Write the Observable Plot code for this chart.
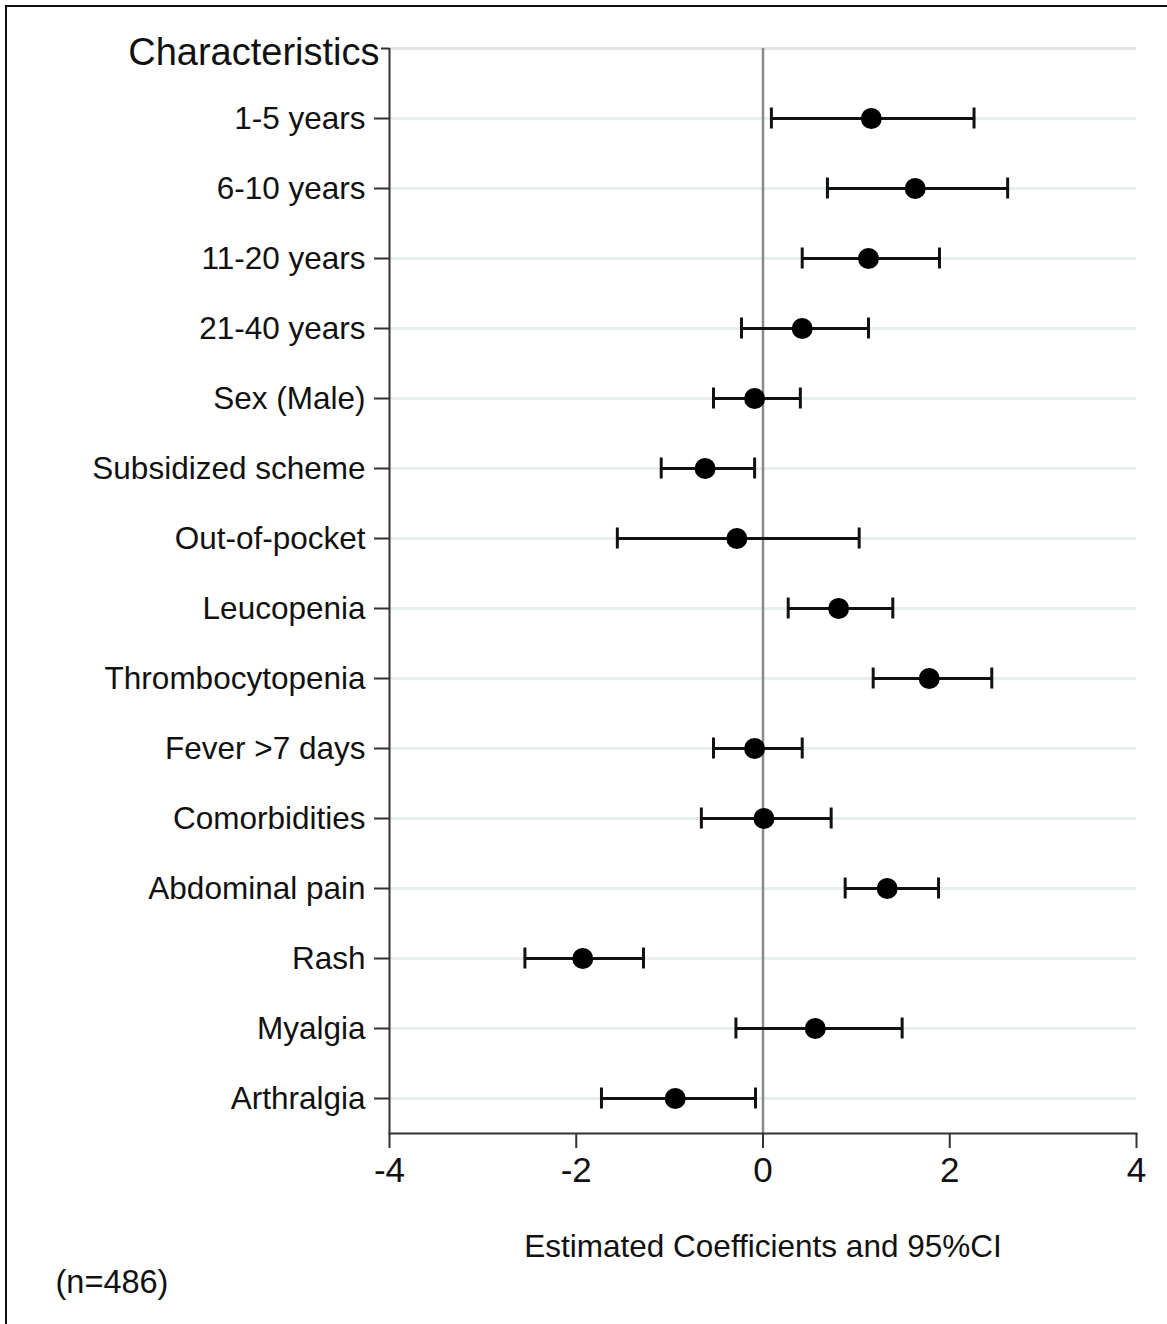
<!DOCTYPE html>
<html>
<head>
<meta charset="utf-8">
<script src="https://cdn.jsdelivr.net/npm/d3@7"></script>
<script src="https://cdn.jsdelivr.net/npm/@observablehq/plot@0.6"></script>
<style>
  html, body { margin: 0; padding: 0; background: #fff; }
  #wrap { position: relative; width: 1167px; height: 1324px; overflow: hidden; }
  #border { position: absolute; left: 5px; top: 5px; width: 1300px; height: 1400px;
            border-left: 2px solid #111; border-top: 2px solid #111; pointer-events: none; }
</style>
</head>
<body>
<div id="wrap"><div id="chart"></div><div id="border"></div></div>
<script>
const header = "Characteristics";
const categories = [
  "1-5 years", "6-10 years", "11-20 years", "21-40 years", "Sex (Male)",
  "Subsidized scheme", "Out-of-pocket", "Leucopenia", "Thrombocytopenia",
  "Fever >7 days", "Comorbidities", "Abdominal pain", "Rash", "Myalgia", "Arthralgia"
];
const estimates = [1.16, 1.63, 1.13, 0.42, -0.09, -0.62, -0.28, 0.81, 1.78, -0.09, 0.01, 1.33, -1.93, 0.56, -0.94];
const lower     = [0.09, 0.69, 0.42, -0.23, -0.53, -1.09, -1.56, 0.27, 1.18, -0.53, -0.66, 0.88, -2.55, -0.29, -1.73];
const upper     = [2.26, 2.62, 1.89, 1.13, 0.40, -0.09, 1.03, 1.39, 2.45, 0.42, 0.73, 1.88, -1.28, 1.49, -0.08];
const xTicks = [-4, -2, 0, 2, 4];
const xLabel = "Estimated Coefficients and 95%CI";
const note = "(n=486)";

const data = categories.map((c, i) => ({cat: c, est: estimates[i], lo: lower[i], hi: upper[i]}));
const ink = "#111";

const chart = Plot.plot({
  width: 1167,
  height: 1324,
  marginLeft: 389,
  marginRight: 31,
  marginTop: 13,
  marginBottom: 191,
  style: {fontFamily: "'Liberation Sans', Arial, Helvetica, sans-serif", background: "white", color: ink},
  x: {domain: [-4, 4]},
  y: {type: "band", domain: [header, ...categories], padding: 0, round: false},
  marks: [
    Plot.ruleY([header], {stroke: "#e3e5e5", strokeWidth: 3}),
    Plot.ruleY(categories, {stroke: "#e6eff0", strokeWidth: 3}),
    Plot.ruleX([0], {stroke: "#8a8a8a", strokeWidth: 2.5, insetTop: 35}),
    Plot.ruleX([-4], {stroke: "#333", strokeWidth: 2, insetTop: 35}),
    Plot.frame({anchor: "bottom", stroke: "#333", strokeWidth: 2}),
    Plot.axisX({ticks: xTicks, tickFormat: d => String(d), tickSize: 15, tickPadding: 9, fontSize: 35, label: null, stroke: "#333", strokeWidth: 2}),
    Plot.axisY({ticks: categories, tickSize: 15, tickPadding: 9, fontSize: 31.5, label: null, stroke: "#333", strokeWidth: 2}),
    Plot.axisY({ticks: categories, tickSize: 0, tickPadding: 24, fontSize: 31.5, label: null, dy: 3, fill: ink, stroke: "none", tickFormat: null}),
    Plot.axisY({ticks: [header], tickSize: 8, tickPadding: 2, fontSize: 38, label: null, stroke: "#333", strokeWidth: 2, tickFormat: null}),
    Plot.text([header], {x: -4, y: d => d, dx: -10, dy: 4, textAnchor: "end", fontSize: 38, fill: ink}),
    Plot.ruleY(data, {y: "cat", x1: "lo", x2: "hi", stroke: ink, strokeWidth: 3.2}),
    Plot.tickX(data, {x: "lo", y: "cat", insetTop: 24.5, insetBottom: 24.5, stroke: ink, strokeWidth: 3}),
    Plot.tickX(data, {x: "hi", y: "cat", insetTop: 24.5, insetBottom: 24.5, stroke: ink, strokeWidth: 3}),
    Plot.dot(data, {x: "est", y: "cat", r: 10.5, fill: "black", stroke: "none"}),
    Plot.text([xLabel], {frameAnchor: "bottom", dy: 123, fontSize: 31.5, fill: ink}),
    Plot.text([note], {frameAnchor: "bottom-left", dx: -334, dy: 159, textAnchor: "start", fontSize: 32.5, fill: ink})
  ]
});
// remove duplicate labels from the first category axis (keep only its ticks)
const axes = chart.querySelectorAll('g[aria-label="y-axis tick label"]');
if (axes.length > 1) axes[0].remove();
document.getElementById("chart").appendChild(chart);
</script>
</body>
</html>
